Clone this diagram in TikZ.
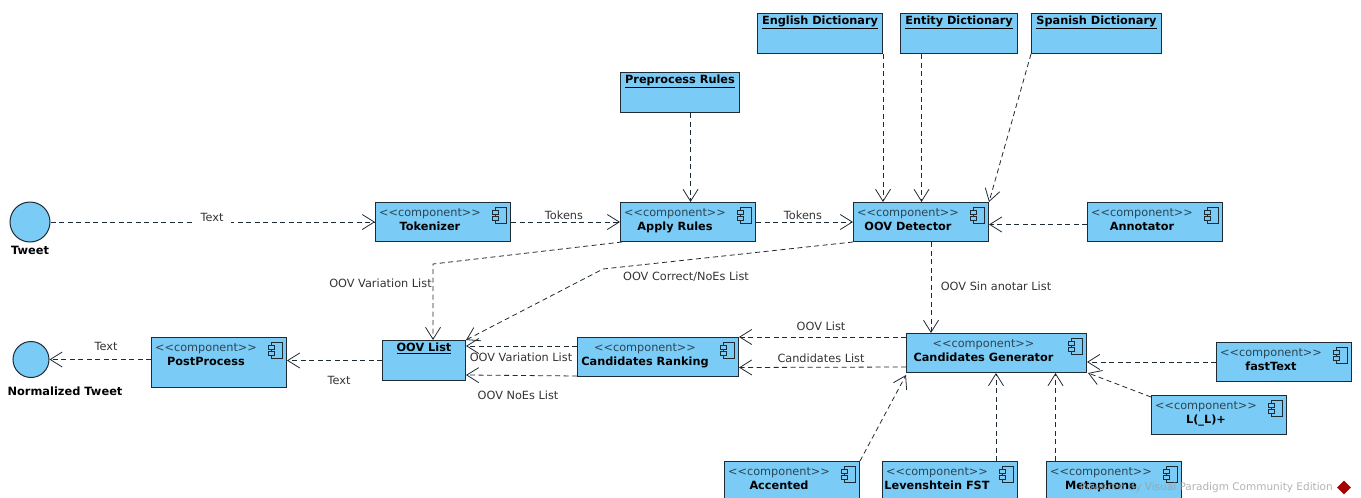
\documentclass[tikz,border=0pt]{standalone}
\usepackage{fontspec}
\setmainfont{DejaVu Sans}
\usetikzlibrary{arrows.meta,shapes.geometric}

\definecolor{vpblue}{HTML}{7ACBF5}
\definecolor{vpline}{HTML}{1F2B33}
\definecolor{vpstereo}{HTML}{2B4656}
\definecolor{vptext}{HTML}{333333}

\newcommand{\comptext}[1]{\begin{tabular}[t]{@{}c@{}}{\color{vpstereo}<{}<component>{}>}\\\textbf{#1}\end{tabular}\kern26pt}

\tikzset{
  diagfont/.style={font=\fontsize{11.3}{14.6}\selectfont},
  compbox/.style={draw=vpline,fill=vpblue,line width=1pt,anchor=north west,inner xsep=0pt,
    inner ysep=2pt,diagfont,text=black,text height=11.5pt,text depth=23.5pt,minimum width=135pt},
  objbox/.style={draw=vpline,fill=vpblue,line width=1pt,anchor=north west,inner xsep=0pt,
    inner ysep=2pt,font=\fontsize{11.3}{14.6}\selectfont,text=black,text height=9pt,text depth=27pt},
  iface/.style={circle,draw=vpline,fill=vpblue,line width=1pt,inner sep=0pt},
  ifacetext/.style={font=\fontsize{11.4}{14.6}\selectfont\bfseries,text=black},
  edgetext/.style={diagfont,text=vptext,inner sep=1pt},
  dep/.style={draw=vpline,line width=0.8pt,dash pattern=on 5pt off 3.5pt,
    -{Straight Barb[length=12pt,width=15pt,line width=0.8pt]}},
  compicon/.pic={
    \draw[vpline,line width=0.8pt] (-16,5) rectangle (-5,21);
    \draw[vpline,line width=0.8pt,fill=vpblue] (-19,8) rectangle (-13,12);
    \draw[vpline,line width=0.8pt,fill=vpblue] (-19,14) rectangle (-13,18);
  }
}

\begin{document}
\begin{tikzpicture}[x=1pt,y=-1pt]
  \useasboundingbox (0,0) rectangle (1361,498);

  % top row
  \node[objbox,minimum width=125pt] (english) at (757,13) {\underline{\textbf{English Dictionary}}};
  \node[objbox,minimum width=117pt] (entity) at (900,13) {\underline{\textbf{Entity Dictionary}}};
  \node[objbox,minimum width=130pt] (spanish) at (1031,13) {\underline{\textbf{Spanish Dictionary}}};
  \node[objbox,minimum width=119pt] (preprocess) at (620,72) {\underline{\textbf{Preprocess Rules}}};

  % tweet row
  \node[iface,minimum size=40pt] (tweet) at (30,222) {};
  \node[ifacetext] (tweetName) at (30,250) {Tweet};
  \node[compbox] (tokenizer) at (375,202) {\comptext{Tokenizer}};
  \node[compbox] (applyRules) at (620,202) {\comptext{Apply Rules}};
  \node[compbox] (detector) at (853,202) {\comptext{OOV Detector}};
  \node[compbox] (annotator) at (1087,202) {\comptext{Annotator}};

  % normalized row
  \node[iface,minimum size=36pt] (normalized) at (31,359.5) {};
  \node[ifacetext] (normalizedName) at (65,391) {Normalized Tweet};
  \node[compbox,text depth=34.5pt] (postProcess) at (151,337) {\comptext{PostProcess}};
  \node[objbox,minimum width=83pt] (oovList) at (382,340) {\underline{\textbf{OOV List}}};
  \node[compbox,minimum width=161pt] (ranking) at (577,337) {\comptext{Candidates Ranking}};
  \node[compbox,minimum width=180pt] (generator) at (906,333) {\comptext{Candidates Generator}};
  \node[compbox] (fastText) at (1216,342) {\comptext{fastText}};
  \node[compbox] (lemma) at (1151,395) {\comptext{L(\_L)+}};

  % bottom row
  \node[compbox] (accented) at (724,461) {\comptext{Accented}};
  \node[compbox] (levenshtein) at (882,461) {\comptext{Levenshtein FST}};
  \node[compbox] (metaphone) at (1046,461) {\comptext{Metaphone}};

  \pic at (tokenizer.north east) {compicon};
  \pic at (applyRules.north east) {compicon};
  \pic at (detector.north east) {compicon};
  \pic at (annotator.north east) {compicon};
  \pic at (postProcess.north east) {compicon};
  \pic at (ranking.north east) {compicon};
  \pic at (generator.north east) {compicon};
  \pic at (fastText.north east) {compicon};
  \pic at (lemma.north east) {compicon};
  \pic at (accented.north east) {compicon};
  \pic at (levenshtein.north east) {compicon};
  \pic at (metaphone.north east) {compicon};

  % connectors
  \coordinate (variationBend) at (433,264);
  \coordinate (correctBend) at (603,269);
  \draw[dep] (tweet) -- (tokenizer.west);
  \draw[dep] (tokenizer.east) -- (applyRules.west);
  \draw[dep] (applyRules.east) -- (detector.west);
  \draw[dep] ([yshift=-2.5pt]annotator.west) -- ([yshift=-2.5pt]detector.east);
  \draw[dep] ([xshift=10.5pt]preprocess.south) -- ([xshift=10.5pt]preprocess.south |- applyRules.north);
  \draw[dep] (english.south east) -- (english.south east |- detector.north);
  \draw[dep] ([xshift=-37.5pt]entity.south) -- ([xshift=-37.5pt]entity.south |- detector.north);
  \draw[dep] (spanish.south west) -- (detector.north east);
  \draw[dep] ([xshift=2pt]applyRules.south west) -- (variationBend) -- (variationBend |- oovList.north);
  \draw[dep] (detector.south west) -- (correctBend) -- (oovList.north east);
  \draw[dep] ([xshift=10pt]detector.south) -- ([xshift=10pt]detector.south |- generator.north);
  \draw[dep] ([yshift=-4pt]generator.north west) -- (ranking.north east);
  \draw[dep] ([yshift=-14pt]generator.west) -- ([yshift=-10.5pt]ranking.east);
  \draw[dep] ([yshift=-9pt]ranking.north west) -- ([yshift=-6pt]oovList.north east);
  \draw[dep] ([yshift=1pt]ranking.south west) -- ([yshift=6pt]oovList.south east);
  \draw[dep] (oovList.west) -- (oovList.west -| postProcess.east);
  \draw[dep] (normalized -| postProcess.west) -- (normalized);
  \draw[dep] (fastText.west) -- (fastText.west -| generator.east);
  \draw[dep] ([yshift=-2pt]lemma.north west) -- ([xshift=1pt]generator.south east);
  \draw[dep] (accented.north east) -- ([yshift=-2pt]generator.south west);
  \draw[dep] ([xshift=46pt]levenshtein.north) -- ([xshift=46pt]levenshtein.north |- generator.south);
  \draw[dep] ([xshift=-58.5pt]metaphone.north) -- ([xshift=-58.5pt]metaphone.north |- generator.south);

  % labels
  \node[edgetext,fill=white,minimum height=14pt,inner xsep=8pt] (tweetText) at (212,217) {Text};
  \node[edgetext] (tokensLeft) at (564,215) {Tokens};
  \node[edgetext] (tokensRight) at (803,215) {Tokens};
  \node[edgetext] (variationLabel) at (380.5,283) {OOV Variation List};
  \node[edgetext] (correctLabel) at (686,277) {OOV Correct/NoEs List};
  \node[edgetext] (sinAnotarLabel) at (996,286.5) {OOV Sin anotar List};
  \node[edgetext] (oovListLabel) at (821,326) {OOV List};
  \node[edgetext] (candidatesLabel) at (821,358.5) {Candidates List};
  \node[edgetext] (rankVariationLabel) at (521,357.5) {OOV Variation List};
  \node[edgetext] (noEsLabel) at (518,395.5) {OOV NoEs List};
  \node[edgetext] (postTextLabel) at (339,380) {Text};
  \node[edgetext] (normTextLabel) at (106,346.5) {Text};

  % watermark
  \node[font=\fontsize{10.5}{12}\selectfont,text=gray!75,fill opacity=0.8,text opacity=0.8,anchor=east,inner sep=0pt] (powered) at (1333,487.5) {Powered By Visual Paradigm Community Edition};
  \node[diamond,fill=red!65!black,minimum size=14pt,inner sep=0pt] (vpLogo) at (1344,487.5) {};
\end{tikzpicture}
\end{document}
